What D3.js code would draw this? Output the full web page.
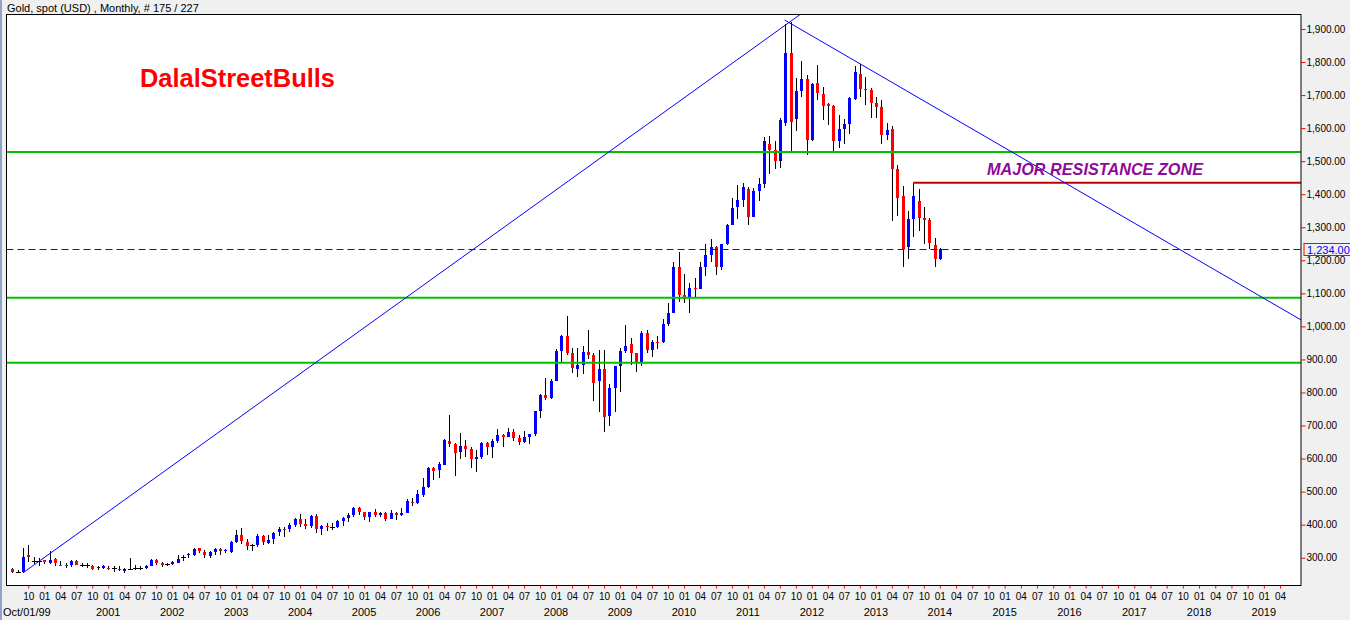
<!DOCTYPE html>
<html>
<head>
<meta charset="utf-8">
<script src="https://cdn.jsdelivr.net/npm/d3@7"></script>
<style>
    body { margin: 0; background: #f0f0f0; }
    svg { display: block; font-family: "Liberation Sans", Arial, sans-serif; }
</style>
</head>
<body>
<div id="chart"></div>
<script>
// first candle is Jul 1999, one candle per month up to Jan 2014
const firstMonth = new Date(1999, 6, 1);

const openPrices = [
    265, 257, 256, 309, 291, 291, 292, 285, 295, 279, 277, 277,
    290, 278, 278, 276, 269, 269, 270, 268, 267, 259, 267, 270,
    268, 269, 276, 294, 284, 281, 280, 285, 301, 307, 309, 328,
    316, 306, 316, 325, 320, 317, 349, 368, 348, 337, 337, 365,
    345, 357, 379, 388, 386, 399, 417, 402, 396, 427, 388, 397,
    392, 392, 412, 421, 429, 451, 438, 424, 438, 429, 435, 418,
    435, 428, 436, 469, 466, 490, 513, 570, 565, 582, 653, 645,
    619, 638, 629, 600, 605, 647, 636, 652, 672, 664, 680, 662,
    650, 665, 673, 743, 793, 784, 834, 925, 972, 918, 872, 883,
    924, 913, 834, 870, 730, 815, 880, 925, 946, 918, 892, 979,
    930, 954, 952, 1007, 1042, 1179, 1095, 1088, 1116, 1114, 1180, 1216,
    1240, 1179, 1248, 1307, 1362, 1382, 1416, 1332, 1410, 1431, 1552, 1534,
    1500, 1617, 1828, 1629, 1712, 1748, 1564, 1737, 1703, 1672, 1667, 1562,
    1597, 1612, 1689, 1764, 1718, 1715, 1675, 1663, 1579, 1597, 1476, 1394,
    1239, 1324, 1379, 1327, 1322, 1246, 1204
];
const highPrices = [
    268, 262, 328, 339, 302, 299, 294, 319, 299, 289, 284, 294,
    292, 284, 284, 279, 274, 278, 274, 274, 274, 269, 299, 279,
    274, 279, 296, 296, 286, 284, 290, 308, 308, 315, 330, 330,
    323, 320, 328, 328, 327, 352, 384, 390, 358, 341, 373, 370,
    368, 379, 394, 394, 404, 419, 432, 417, 429, 432, 399, 404,
    406, 414, 422, 434, 454, 454, 439, 439, 447, 439, 437, 444,
    438, 449, 477, 481, 505, 540, 575, 575, 590, 658, 732, 647,
    676, 656, 636, 625, 650, 650, 658, 690, 675, 692, 690, 672,
    683, 675, 745, 795, 845, 840, 933, 975, 1031, 935, 935, 940,
    988, 920, 930, 930, 825, 880, 935, 1005, 965, 918, 985, 990,
    960, 970, 1023, 1070, 1196, 1226, 1160, 1132, 1145, 1195, 1249, 1263,
    1242, 1250, 1310, 1388, 1428, 1433, 1423, 1420, 1448, 1574, 1576, 1560,
    1632, 1915, 1920, 1753, 1803, 1760, 1737, 1791, 1723, 1676, 1670, 1640,
    1627, 1695, 1787, 1795, 1755, 1720, 1695, 1685, 1617, 1605, 1488, 1425,
    1349, 1435, 1415, 1360, 1327, 1266, 1236
];
const lowPrices = [
    255, 253, 254, 286, 282, 275, 281, 282, 274, 274, 269, 271,
    277, 272, 268, 264, 264, 267, 264, 256, 259, 254, 262, 264,
    262, 267, 274, 279, 273, 274, 279, 283, 290, 298, 305, 313,
    298, 298, 308, 308, 315, 313, 343, 340, 324, 320, 333, 338,
    341, 341, 365, 363, 378, 394, 394, 387, 389, 375, 368, 381,
    384, 389, 397, 409, 424, 429, 414, 409, 422, 422, 412, 416,
    414, 426, 434, 456, 464, 485, 510, 535, 540, 580, 634, 548,
    600, 605, 570, 560, 600, 612, 602, 648, 636, 664, 652, 640,
    648, 643, 668, 723, 776, 779, 834, 888, 914, 860, 846, 857,
    900, 773, 740, 681, 700, 740, 800, 918, 883, 862, 880, 920,
    908, 932, 950, 1000, 1040, 1075, 1070, 1042, 1088, 1113, 1152, 1196,
    1155, 1172, 1245, 1306, 1325, 1362, 1308, 1330, 1380, 1420, 1460, 1476,
    1480, 1607, 1532, 1592, 1695, 1520, 1560, 1685, 1625, 1609, 1529, 1540,
    1551, 1582, 1685, 1695, 1670, 1630, 1630, 1552, 1565, 1320, 1334, 1179,
    1205, 1271, 1290, 1250, 1233, 1181, 1201
];
const closePrices = [
    258, 257, 302, 302, 291, 291, 286, 294, 284, 276, 274, 290,
    279, 278, 278, 267, 272, 274, 267, 268, 262, 266, 267, 270,
    268, 276, 294, 284, 277, 281, 287, 296, 301, 311, 327, 319,
    307, 316, 326, 320, 324, 348, 369, 351, 335, 337, 365, 347,
    353, 376, 388, 386, 399, 416, 402, 397, 427, 388, 396, 394,
    392, 412, 420, 430, 451, 439, 424, 437, 429, 435, 418, 434,
    429, 435, 471, 466, 493, 513, 570, 563, 585, 656, 645, 616,
    638, 630, 600, 605, 647, 636, 652, 672, 664, 680, 662, 650,
    665, 673, 743, 793, 784, 834, 925, 972, 918, 874, 883, 924,
    913, 830, 870, 727, 815, 880, 925, 940, 920, 892, 979, 930,
    954, 951, 1007, 1042, 1179, 1095, 1082, 1116, 1113, 1180, 1216, 1240,
    1181, 1248, 1307, 1357, 1382, 1421, 1332, 1410, 1431, 1562, 1534, 1500,
    1624, 1828, 1620, 1712, 1748, 1564, 1733, 1705, 1667, 1667, 1562, 1597,
    1612, 1690, 1769, 1718, 1715, 1675, 1663, 1579, 1594, 1476, 1389, 1233,
    1324, 1394, 1327, 1322, 1253, 1204, 1234
];

const yTicks = [300, 400, 500, 600, 700, 800, 900, 1000, 1100, 1200, 1300, 1400, 1500, 1600, 1700, 1800, 1900];
const quarterLabels = { 0: '01', 3: '04', 6: '07', 9: '10' };
const firstAxisLabel = 'Oct/01/99';
const lastAxisMonth = 237;          // Apr 2019 is the last labelled tick

const supportLevels = [1528, 1087, 890];
const resistanceLevel = 1435;
const resistanceFrom = 169;         // Aug 2013 high
const lastPrice = 1234;
const upTrend = [[2, 254], [147.8, 1944]];
const downTrend = [[144.9, 1927], [242, 1009]];

const chartTitle = 'Gold, spot (USD) , Monthly, # 175 / 227';
const brandText = 'DalalStreetBulls';
const zoneText = 'MAJOR RESISTANCE ZONE';

/**
 * Monthly candlestick chart of gold spot with trend lines and levels
 */
class GoldCandleChart {
    constructor() {
        this.width = 1350;
        this.height = 620;
        this.plot = { left: 6.5, top: 14.5, right: 1301, bottom: 585.5 };
        this.barStep = 5.331;
        this.futureStep = 5.40;
        this.candles = openPrices.map((o, i) => ({
            i: i, open: o, high: highPrices[i], low: lowPrices[i], close: closePrices[i]
        }));
        this.drawPlot();
    }

    drawPlot() {
        let p = this.plot;
        let last = this.candles.length - 1;
        let xLast = p.left + (last + 1.08) * this.barStep;

        this.svg = d3.select('#chart')
            .append('svg')
            .attr('width', this.width)
            .attr('height', this.height);

        this.svg.append('rect')
            .attr('width', this.width)
            .attr('height', this.height)
            .attr('fill', '#f0f0f0');
        this.svg.append('rect')
            .attr('width', 2)
            .attr('height', this.height)
            .attr('fill', '#8fa3c7');

        this.xScale = d3.scaleLinear()
            .domain([-1.08, last, last + (p.right - xLast) / this.futureStep])
            .range([p.left, xLast, p.right]);
        this.yScale = d3.scaleLinear()
            .domain([300, 1900])
            .range([557.7, 29]);

        this.svg.append('defs').append('clipPath')
            .attr('id', 'plot-clip')
            .append('rect')
            .attr('x', p.left).attr('y', p.top)
            .attr('width', p.right - p.left).attr('height', p.bottom - p.top);

        this.svg.append('rect')
            .attr('x', p.left).attr('y', p.top)
            .attr('width', p.right - p.left).attr('height', p.bottom - p.top)
            .attr('fill', '#ffffff');

        this.svg.append('text')
            .text(chartTitle)
            .attr('x', 7).attr('y', 11.5)
            .attr('font-size', 11)
            .attr('fill', '#000');

        this.drawAxes();
        this.drawCandles();
        this.drawLines();

        // plot frame on top
        this.svg.append('rect')
            .attr('x', p.left).attr('y', p.top)
            .attr('width', p.right - p.left).attr('height', p.bottom - p.top)
            .attr('fill', 'none')
            .attr('stroke', '#000')
            .attr('stroke-width', 1);

        this.svg.append('text')
            .text(brandText)
            .attr('x', 140).attr('y', 87)
            .attr('font-size', 25)
            .attr('font-weight', 'bold')
            .attr('textLength', 195)
            .attr('lengthAdjust', 'spacingAndGlyphs')
            .attr('fill', '#ff0000');

        this.svg.append('text')
            .text(zoneText)
            .attr('x', 987).attr('y', 174.5)
            .attr('font-size', 17)
            .attr('font-weight', 'bold')
            .attr('font-style', 'italic')
            .attr('textLength', 216)
            .attr('lengthAdjust', 'spacingAndGlyphs')
            .attr('fill', '#8f0a9a');
    }

    drawAxes() {
        let p = this.plot;
        let that = this;

        //Right price axis
        let yAxis = d3.axisRight(this.yScale)
            .tickValues(yTicks)
            .tickFormat(d3.format(',.2f'))
            .tickSize(4)
            .tickPadding(1);
        let gy = this.svg.append('g')
            .attr('transform', `translate(${p.right + 0.5}, 0)`)
            .attr('font-family', null)
            .attr('font-size', 11)
            .call(yAxis);
        gy.select('.domain').remove();
        gy.selectAll('.tick line').attr('stroke', '#ff0000');
        gy.selectAll('.tick text').attr('fill', '#000');

        //Bottom month axis, one tick per quarter
        let quarterMonths = d3.range(3, lastAxisMonth + 1, 3);
        let monthOf = (i) => d3.timeMonth.offset(firstMonth, i);
        let xAxis = d3.axisBottom(this.xScale)
            .tickValues(quarterMonths)
            .tickFormat(i => quarterLabels[monthOf(i).getMonth()])
            .tickSize(3)
            .tickPadding(4);
        let gx = this.svg.append('g')
            .attr('transform', `translate(0, ${p.bottom})`)
            .attr('font-family', null)
            .attr('font-size', 11)
            .call(xAxis);
        gx.select('.domain').remove();
        gx.selectAll('.tick line').attr('stroke', '#ff0000');
        gx.selectAll('.tick text').attr('fill', '#000');

        let yearMonths = quarterMonths.filter(i => monthOf(i).getMonth() === 0 && monthOf(i).getFullYear() > 2000);
        this.svg.append('g')
            .attr('font-size', 11)
            .selectAll('text')
            .data(yearMonths)
            .enter()
            .append('text')
            .attr('x', d => that.xScale(d))
            .attr('y', 615.5)
            .attr('text-anchor', 'middle')
            .attr('fill', '#000')
            .text(d => monthOf(d).getFullYear());
        this.svg.append('text')
            .text(firstAxisLabel)
            .attr('x', 3).attr('y', 615.5)
            .attr('font-size', 11)
            .attr('fill', '#000');
    }

    drawCandles() {
        let x = this.xScale, y = this.yScale;
        let cx = (d) => Math.round(x(d.i));

        let group = this.svg.append('g')
            .attr('clip-path', 'url(#plot-clip)')
            .attr('shape-rendering', 'crispEdges');
        let candles = group.selectAll('g')
            .data(this.candles)
            .enter()
            .append('g');

        candles.append('line')
            .attr('x1', d => cx(d) + 0.5)
            .attr('x2', d => cx(d) + 0.5)
            .attr('y1', d => y(d.high))
            .attr('y2', d => y(d.low))
            .attr('stroke', '#000')
            .attr('stroke-width', 1);

        candles.filter(d => d.open !== d.close)
            .append('rect')
            .attr('x', d => cx(d) - 1)
            .attr('width', 3)
            .attr('y', d => y(Math.max(d.open, d.close)))
            .attr('height', d => Math.max(1, Math.abs(y(d.open) - y(d.close))))
            .attr('fill', d => d.close > d.open ? '#0000ff' : '#ff0000');

        // unchanged months are drawn as a black cross
        candles.filter(d => d.open === d.close)
            .append('line')
            .attr('x1', d => cx(d) - 2)
            .attr('x2', d => cx(d) + 3)
            .attr('y1', d => Math.round(y(d.close)) + 0.5)
            .attr('y2', d => Math.round(y(d.close)) + 0.5)
            .attr('stroke', '#000');
    }

    drawLines() {
        let p = this.plot;
        let x = this.xScale, y = this.yScale;
        let g = this.svg.append('g').attr('clip-path', 'url(#plot-clip)');

        g.selectAll('line.support')
            .data(supportLevels)
            .enter()
            .append('line')
            .classed('support', true)
            .attr('x1', p.left).attr('x2', p.right)
            .attr('y1', d => y(d)).attr('y2', d => y(d))
            .attr('stroke', '#00c000')
            .attr('stroke-width', 2);

        g.append('line')
            .attr('x1', x(resistanceFrom)).attr('x2', p.right)
            .attr('y1', y(resistanceLevel)).attr('y2', y(resistanceLevel))
            .attr('stroke', '#c00000')
            .attr('stroke-width', 2);

        g.append('line')
            .attr('x1', p.left).attr('x2', p.right)
            .attr('y1', Math.round(y(lastPrice)) + 0.5).attr('y2', Math.round(y(lastPrice)) + 0.5)
            .attr('stroke', '#1010c0')
            .attr('stroke-width', 1)
            .attr('stroke-dasharray', '7,4');

        let line = d3.line().x(d => x(d[0])).y(d => y(d[1]));
        [upTrend, downTrend].forEach((t) => {
            g.append('path')
                .attr('d', line(t))
                .attr('fill', 'none')
                .attr('stroke', '#0000ff')
                .attr('stroke-width', 1);
        });

        //Last price tag on the axis
        let ty = Math.round(y(lastPrice));
        this.svg.append('rect')
            .attr('x', p.right + 3).attr('y', ty - 5.5)
            .attr('width', 48).attr('height', 12)
            .attr('fill', '#f0f0f0')
            .attr('stroke', '#ff0000')
            .attr('stroke-width', 1);
        this.svg.append('text')
            .text(d3.format(',.2f')(lastPrice))
            .attr('x', p.right + 6).attr('y', ty + 4.5)
            .attr('font-size', 11)
            .attr('fill', '#0000ff');
    }
}

new GoldCandleChart();
</script>
</body>
</html>
